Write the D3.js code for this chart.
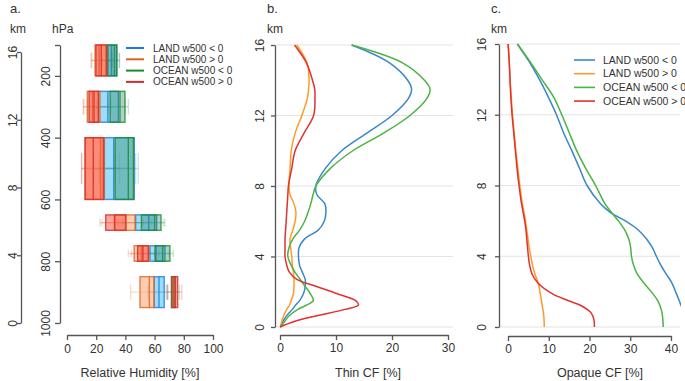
<!DOCTYPE html>
<html>
<head>
<meta charset="utf-8">
<script src="https://cdn.jsdelivr.net/npm/d3@7"></script>
<style>
  body { margin: 0; background: #fff; }
  text { font-family: "Liberation Sans", Arial, sans-serif; fill: #333; }
</style>
</head>
<body>
<div id="canvas"></div>
<script>
"use strict"

let svgWidth = 685;
let svgHeight = 381;

/* Series names (same order everywhere) */
let seriesNames = ["LAND w500 < 0", "LAND w500 > 0", "OCEAN w500 < 0", "OCEAN w500 > 0"];

/* ---- panel a : relative humidity box plots ---- */
// pressure layers of each box (hPa)
let layerTop = [100, 250, 400, 650, 750, 850];
let layerBottom = [200, 350, 600, 700, 800, 950];

// [whisker low, q1, median, q3, whisker high] per layer
let rhLandNeg = [[22, 27.2, 30.5, 34.2, 36], [14, 21.5, 28, 35.2, 40], [18, 25.6, 32, 46.1, 48.8],
                 [35, 47, 56, 61.4, 66], [48, 56.8, 61, 67.1, 70], [55.5, 59.6, 63, 66.6, 69]];
let rhLandPos = [[17, 19.2, 22, 26.5, 30], [11, 13.9, 17.5, 22.6, 30], [10, 12.6, 23, 25.5, 36],
                 [24, 32.9, 40, 46.6, 58], [42, 46, 51, 56, 63], [43.6, 50, 56.4, 59.6, 68]];
let rhOceanNeg = [[24, 28, 32.5, 34, 35.8], [20, 29.5, 36.3, 39.7, 42], [22, 33, 42, 45.5, 47],
                  [38, 51, 60, 64.4, 67], [52, 60.3, 65.5, 70.5, 72.8], [68.5, 71.5, 73, 74.2, 77]];
let rhOceanPos = [[16.5, 19.8, 23.5, 27.2, 31], [11.5, 15.1, 18.5, 21.5, 28], [10, 12.3, 18, 24.9, 33],
                  [22.6, 26.5, 32.5, 40.4, 52], [44, 48.4, 52, 55.7, 60], [69, 71.9, 74, 75.8, 78.6]];

let rhTicks = [0, 20, 40, 60, 80, 100];
let kmTicks = [0, 4, 8, 12, 16];
let hpaTicks = [100, 200, 400, 600, 800, 1000];

/* ---- panel b : thin cloud fraction (%) ---- */
let thinHeights = [0, 0.3, 0.6, 1.0, 1.25, 1.5, 1.9, 2.3, 2.7, 3.1, 3.5, 4, 4.5, 5, 5.5, 6, 6.5, 7, 7.5, 8,
                   9, 10, 11, 12, 13, 13.5, 14, 15, 16];
let thinLandNeg = [0.1, 0.5, 1.1, 2.2, 2.8, 3.5, 4.2, 4.5, 4.5, 4.0, 3.5, 3.3, 3.4, 4.4, 6.85, 7.9, 8.2, 8.0, 6.6, 6.4,
                   8.1, 11.0, 15.5, 20.0, 23.0, 23.5, 22.8, 19.5, 12.8];
let thinLandPos = [0.1, 0.3, 0.6, 1.2, 1.7, 2.0, 2.4, 2.5, 2.5, 2.4, 2.2, 2.1, 1.9, 1.8, 2.3, 2.7, 2.85, 2.5, 1.8, 1.6,
                   1.8, 2.0, 2.7, 3.9, 4.9, 5.1, 5.2, 4.8, 3.0];
let thinOceanNeg = [0, 0.8, 1.5, 3.2, 4.8, 5.95, 5.4, 4.5, 3.6, 2.7, 2.0, 1.4, 1.6, 2.3, 3.5, 4.4, 5.0, 5.5, 5.9, 6.4,
                    9.0, 13.0, 18.5, 23.2, 26.3, 26.8, 25.8, 21.8, 12.8];
let thinOceanPos = [0, 2.4, 6.0, 11.6, 14.0, 13.5, 10.1, 6.5, 3.0, 1.7, 1.2, 0.9, 0.9, 0.9, 1.0, 1.1, 1.2, 1.3, 1.4, 1.5,
                    2.1, 2.7, 4.3, 6.0, 6.25, 6.2, 5.8, 4.7, 2.6];
let thinTicks = [0, 10, 20, 30];

/* ---- panel c : opaque cloud fraction (%) ---- */
let opqHeights = [0, 0.4, 0.8, 1.2, 1.5, 1.9, 2.5, 3, 3.5, 4, 4.5, 5, 5.5, 6, 6.5, 7, 8, 9, 10, 11, 12, 13, 14, 15, 16];
let opqLandNeg = [45.5, 44.5, 43.5, 42.5, 42.0, 41.3, 40.2, 38.8, 37.5, 36.4, 35.4, 33.9, 31.9, 28.8, 25.0, 22.6,
                  19.4, 17.5, 15.6, 13.6, 11.9, 9.9, 7.7, 5.2, 2.3];
let opqLandPos = [8.9, 8.85, 8.7, 8.4, 8.2, 7.9, 7.4, 6.6, 6.0, 5.6, 5.2, 4.9, 4.6, 4.3, 3.9, 3.5,
                  2.9, 2.4, 1.9, 1.5, 1.1, 0.8, 0.5, 0.3, 0.1];
let opqOceanNeg = [38.1, 38.0, 37.8, 37.3, 36.7, 35.5, 33.3, 31.7, 30.8, 30.3, 30.1, 29.6, 28.6, 27.1, 25.3, 23.7,
                   21.5, 19.0, 16.8, 15.0, 13.2, 11.2, 8.3, 5.4, 2.3];
let opqOceanPos = [21.2, 21.1, 20.4, 18.0, 14.7, 10.7, 7.3, 5.9, 5.3, 5.0, 4.8, 4.6, 4.4, 4.1, 3.7, 3.3,
                   2.7, 2.2, 1.8, 1.4, 1.0, 0.7, 0.5, 0.3, 0.0];
let opqTicks = [0, 10, 20, 30, 40];

/* colours */
let lineColors = ["#3a87c8", "#ff9a2a", "#4bb343", "#e2312e"];
let boxStroke = ["#1f78e0", "#d9661f", "#1c8a2a", "#d42a2a"];
let boxFill = ["rgba(20,175,240,0.42)", "rgba(253,150,90,0.48)", "rgba(40,130,90,0.36)", "rgba(250,75,60,0.5)"];

let svg = d3.select("#canvas")
    .append("svg")
    .attr("width", svgWidth)
    .attr("height", svgHeight);

/* rotate y tick labels like R does */
function rotateLabels(g, offset) {
    g.selectAll(".tick text")
        .attr("transform", "rotate(-90)")
        .attr("x", 0)
        .attr("y", -offset)
        .attr("dy", 0)
        .attr("text-anchor", "middle");
}

function styleAxis(g) {
    g.selectAll("path.domain").attr("stroke", "#555").attr("stroke-width", 1.3);
    g.selectAll(".tick line").attr("stroke", "#555").attr("stroke-width", 1.3);
    g.selectAll(".tick text").attr("fill", "#333").style("font-size", "12px")
        .style("font-family", "'Liberation Sans', Arial, sans-serif");
}

/* ================= panel a ================= */
let xRH = d3.scaleLinear().domain([0, 100]).range([67, 213]);
let yKm = d3.scaleLinear().domain([0, 16]).range([323, 52]);
let yHpa = d3.scaleLinear().domain([100, 1000]).range([45, 323]);

svg.append("text").attr("x", 10).attr("y", 13).style("font-size", "13px").text("a.");
svg.append("text").attr("x", 10).attr("y", 33).style("font-size", "12px").text("km");
svg.append("text").attr("x", 52).attr("y", 33).style("font-size", "12px").text("hPa");

let kmAxis = svg.append("g")
    .attr("transform", "translate(21,0)")
    .call(d3.axisLeft(yKm).tickValues(kmTicks).tickSize(4).tickSizeOuter(0));
styleAxis(kmAxis);
rotateLabels(kmAxis, 4.5);

let hpaAxis = svg.append("g")
    .attr("transform", "translate(60,0)")
    .call(d3.axisLeft(yHpa).tickValues(hpaTicks).tickSize(5).tickSizeOuter(0)
        .tickFormat(d => d === 100 ? "" : String(d)));
styleAxis(hpaAxis);
rotateLabels(hpaAxis, 10.5);

let rhAxis = svg.append("g")
    .attr("transform", "translate(0,335)")
    .call(d3.axisBottom(xRH).tickValues(rhTicks).tickSize(5).tickSizeOuter(0));
styleAxis(rhAxis);
rhAxis.selectAll(".tick text").attr("y", 9).attr("dy", "0.71em");

svg.append("text")
    .attr("x", 140).attr("y", 377)
    .attr("text-anchor", "middle")
    .style("font-size", "12.5px")
    .text("Relative Humidity [%]");

let rhSeries = [rhLandNeg, rhLandPos, rhOceanNeg, rhOceanPos];

// whiskers first (faint)
rhSeries.forEach(function (series, s) {
    series.forEach(function (v, i) {
        let y0 = yHpa(layerTop[i]), y1 = yHpa(layerBottom[i]);
        let yc = (y0 + y1) / 2, h = (y1 - y0) * 0.25;
        let g = svg.append("g")
            .attr("stroke", boxStroke[s])
            .attr("stroke-opacity", 0.22)
            .attr("stroke-width", 1.4);
        g.append("line").attr("x1", xRH(v[0])).attr("x2", xRH(v[4])).attr("y1", yc).attr("y2", yc);
        g.append("line").attr("x1", xRH(v[0])).attr("x2", xRH(v[0])).attr("y1", yc - h).attr("y2", yc + h);
        g.append("line").attr("x1", xRH(v[4])).attr("x2", xRH(v[4])).attr("y1", yc - h).attr("y2", yc + h);
    });
});

// boxes
rhSeries.forEach(function (series, s) {
    let g = svg.append("g");
    g.selectAll("rect")
        .data(series)
        .join("rect")
        .attr("x", d => xRH(d[1]))
        .attr("width", d => xRH(d[3]) - xRH(d[1]))
        .attr("y", (d, i) => yHpa(layerTop[i]))
        .attr("height", (d, i) => yHpa(layerBottom[i]) - yHpa(layerTop[i]))
        .attr("fill", boxFill[s])
        .attr("stroke", boxStroke[s])
        .attr("stroke-opacity", 0.8)
        .attr("stroke-width", 1.4);
    g.selectAll("line")
        .data(series)
        .join("line")
        .attr("x1", d => xRH(d[2]))
        .attr("x2", d => xRH(d[2]))
        .attr("y1", (d, i) => yHpa(layerTop[i]))
        .attr("y2", (d, i) => yHpa(layerBottom[i]))
        .attr("stroke", boxStroke[s])
        .attr("stroke-opacity", 0.8)
        .attr("stroke-width", 1.4);
});

// legend a
seriesNames.forEach(function (name, s) {
    let y = 48 + s * 11.3;
    svg.append("line")
        .attr("x1", 126).attr("x2", 144).attr("y1", y).attr("y2", y)
        .attr("stroke", boxStroke[s]).attr("stroke-width", 2);
    svg.append("text")
        .attr("x", 153).attr("y", y).attr("dy", "0.35em")
        .style("font-size", "10px")
        .text(name);
});

/* ================= panel b / c helper ================= */
function profilePanel(opt) {
    let x = d3.scaleLinear().domain(opt.xDomain).range(opt.xRange);
    let y = d3.scaleLinear().domain([0, 16]).range(opt.yRange);

    svg.append("text").attr("x", opt.axisX - 8).attr("y", 13).style("font-size", "13px").text(opt.letter);
    svg.append("text").attr("x", opt.axisX - 8).attr("y", 33).style("font-size", "12px")
        .attr("fill", "#444").text("km");

    // grid lines
    svg.append("g").selectAll("line")
        .data(kmTicks)
        .join("line")
        .attr("x1", opt.axisX).attr("x2", opt.gridEnd)
        .attr("y1", d => y(d)).attr("y2", d => y(d))
        .attr("stroke", "#e3e3e3").attr("stroke-width", 1.2);

    let ya = svg.append("g")
        .attr("transform", "translate(" + opt.axisX + ",0)")
        .call(d3.axisLeft(y).tickValues(kmTicks).tickSize(4).tickSizeOuter(0));
    styleAxis(ya);
    rotateLabels(ya, opt.labelOffset);

    let xa = svg.append("g")
        .attr("transform", "translate(0," + opt.xAxisY + ")")
        .call(d3.axisBottom(x).tickValues(opt.ticks).tickSize(5).tickSizeOuter(0));
    styleAxis(xa);
    xa.selectAll(".tick text").attr("y", 8).attr("dy", "0.71em");

    svg.append("text")
        .attr("x", opt.titleX).attr("y", 377)
        .attr("text-anchor", "middle")
        .style("font-size", "12.5px")
        .text(opt.title);

    let clipId = "clip" + opt.letter.replace(".", "");
    svg.append("clipPath").attr("id", clipId)
        .append("rect")
        .attr("x", opt.axisX).attr("y", 30)
        .attr("width", opt.gridEnd - opt.axisX + 1).attr("height", 310);

    let line = d3.line()
        .x(d => x(d[0]))
        .y(d => y(d[1]))
        .curve(d3.curveCatmullRom);

    opt.series.forEach(function (vals, s) {
        let pts = vals.map((v, i) => [v, opt.heights[i]]);
        svg.append("path")
            .datum(pts)
            .attr("clip-path", "url(#" + clipId + ")")
            .attr("fill", "none")
            .attr("stroke", lineColors[s])
            .attr("stroke-width", 1.5)
            .attr("d", line);
    });
}

profilePanel({
    letter: "b.",
    xDomain: [0, 30], xRange: [280, 448], yRange: [327, 45],
    axisX: 275, gridEnd: 453, xAxisY: 335, labelOffset: 11.5,
    ticks: thinTicks, title: "Thin CF [%]", titleX: 368,
    heights: thinHeights,
    series: [thinLandNeg, thinLandPos, thinOceanNeg, thinOceanPos]
});

profilePanel({
    letter: "c.",
    xDomain: [0, 40], xRange: [508, 671], yRange: [327, 44],
    axisX: 499, gridEnd: 680, xAxisY: 336, labelOffset: 13,
    ticks: opqTicks, title: "Opaque CF [%]", titleX: 600,
    heights: opqHeights,
    series: [opqLandNeg, opqLandPos, opqOceanNeg, opqOceanPos]
});

// legend c
seriesNames.forEach(function (name, s) {
    let y = 60 + s * 13.7;
    svg.append("line")
        .attr("x1", 574).attr("x2", 595).attr("y1", y).attr("y2", y)
        .attr("stroke", lineColors[s]).attr("stroke-width", 1.6);
    svg.append("text")
        .attr("x", 603).attr("y", y).attr("dy", "0.35em")
        .style("font-size", "10.5px")
        .attr("fill", "#444")
        .text(name);
});
</script>
</body>
</html>
